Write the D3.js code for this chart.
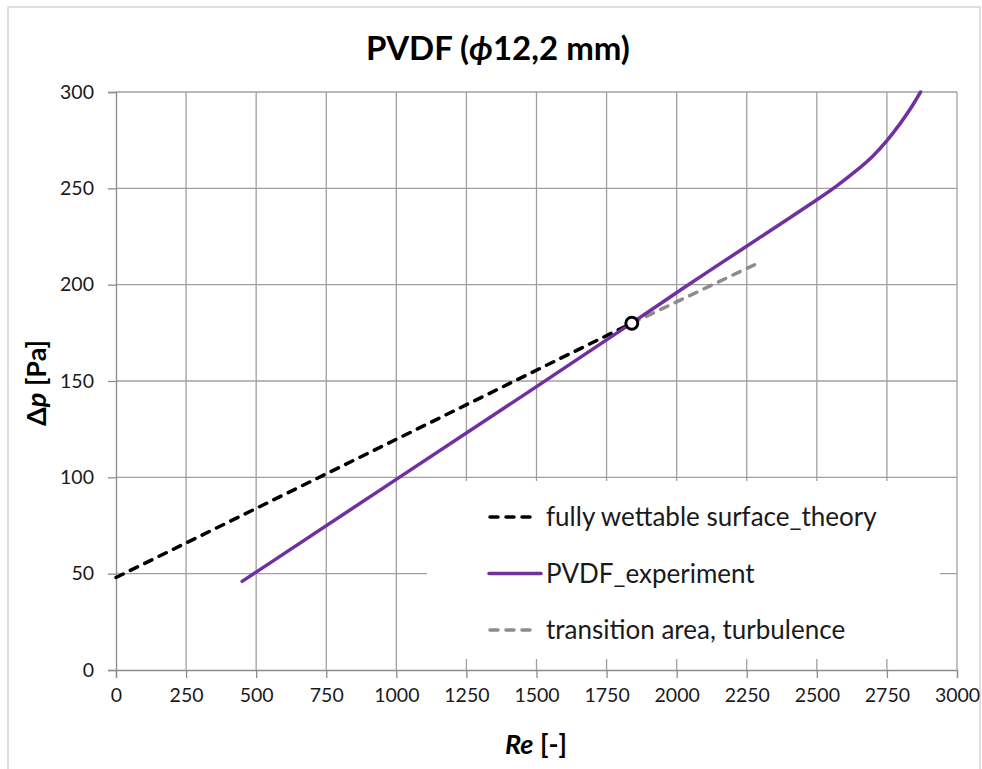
<!DOCTYPE html>
<html><head><meta charset="utf-8">
<script src="https://cdn.jsdelivr.net/npm/d3@7"></script>
<style>
body{margin:0;background:#fff;}
svg{display:block;font-family:Lato,"Open Sans",sans-serif;}
</style></head>
<body>
<svg id="c" width="982" height="769"></svg>
<script>
// ---- data ----
const xTicks = [0,250,500,750,1000,1250,1500,1750,2000,2250,2500,2750,3000];
const yTicks = [0,50,100,150,200,250,300];
const theoryRe = [0, 1840];
const theoryDp = [48, 180];
const experimentRe = [450, 1000, 1500, 1840, 2000, 2250, 2400, 2500, 2570, 2640, 2700, 2750, 2800, 2840, 2870];
const experimentDp = [46, 99, 147, 180, 196, 220, 234.4, 244, 251, 259, 266.5, 274.5, 284, 292.5, 300];
const transitionRe = [1840, 2280];
const transitionDp = [180, 210.5];
const pointRe = [1840];
const pointDp = [180];
const seriesNames = ["fully wettable surface_theory","PVDF_experiment","transition area, turbulence"];

const svg = d3.select("#c");
const M = {l:116, r:957, t:92, b:670};
const x = d3.scaleLinear().domain([0,3000]).range([M.l, M.r]);
const y = d3.scaleLinear().domain([0,300]).range([M.b, M.t]);

// outer frame
svg.append("rect").attr("x",8).attr("y",7).attr("width",972).attr("height",780)
  .attr("fill","#fff").attr("stroke","#d0d0d0").attr("stroke-width",1.3);

const gridC = "#a0a0a0";
// grid
svg.append("g").selectAll("line").data(xTicks.slice(1)).join("line")
  .attr("x1",d=>x(d)).attr("x2",d=>x(d)).attr("y1",M.t).attr("y2",M.b)
  .attr("stroke",gridC).attr("stroke-width",1.3);
svg.append("g").selectAll("line").data(yTicks.slice(1)).join("line")
  .attr("y1",d=>y(d)).attr("y2",d=>y(d)).attr("x1",M.l).attr("x2",M.r)
  .attr("stroke",gridC).attr("stroke-width",1.3);

// axes
const xAxis = svg.append("g").attr("transform",`translate(0,${M.b})`)
  .call(d3.axisBottom(x).tickValues(xTicks).tickSize(8).tickPadding(10).tickFormat(d3.format("d")));
const yAxis = svg.append("g").attr("transform",`translate(${M.l},0)`)
  .call(d3.axisLeft(y).tickValues(yTicks).tickSize(8).tickPadding(14).tickFormat(d3.format("d")));
[xAxis,yAxis].forEach(a=>{
  a.select(".domain").attr("stroke","#8c8c8c").attr("stroke-width",1.3);
  a.selectAll(".tick line").attr("stroke","#8c8c8c").attr("stroke-width",1.3);
  a.selectAll("text").attr("font-family","Lato").attr("font-size",19.5).attr("fill","#1a1a1a");
});

// lines
const line = d3.line().x(d=>x(d[0])).y(d=>y(d[1]));
const zip = (a,b)=>a.map((v,i)=>[v,b[i]]);
svg.append("path").datum(zip(theoryRe,theoryDp)).attr("d",line)
  .attr("fill","none").attr("stroke","#000").attr("stroke-width",3.5)
  .attr("stroke-dasharray","8,8").attr("stroke-linecap","round");
svg.append("path").datum(zip(transitionRe,transitionDp)).attr("d",line)
  .attr("fill","none").attr("stroke","#8c8c8c").attr("stroke-width",3.5)
  .attr("stroke-dasharray","8,8").attr("stroke-linecap","round");
const curveLine = d3.line().x(d=>x(d[0])).y(d=>y(d[1])).curve(d3.curveBasis);
svg.append("path").datum(zip(experimentRe,experimentDp)).attr("d",curveLine)
  .attr("fill","none").attr("stroke","#7030A0").attr("stroke-width",3.5).attr("stroke-linecap","round");
svg.append("g").selectAll("circle").data(zip(pointRe,pointDp)).join("circle")
  .attr("cx",d=>x(d[0])).attr("cy",d=>y(d[1])).attr("r",6)
  .attr("fill","#fff").attr("stroke","#000").attr("stroke-width",3);

// legend
const lg = svg.append("g");
lg.append("rect").attr("x",427).attr("y",481).attr("width",513).attr("height",178).attr("fill","#fff");
const lgY = [517,573.5,630];
const lgStyle = [
  {c:"#000",dash:"8,8"},{c:"#7030A0",dash:null},{c:"#8c8c8c",dash:"8,8"}];
seriesNames.forEach((n,i)=>{
  const l = lg.append("line").attr("x1",i===1?489:490).attr("x2",i===1?541:538)
    .attr("y1",lgY[i]).attr("y2",lgY[i]).attr("stroke",lgStyle[i].c).attr("stroke-width",3.5)
    .attr("stroke-linecap","round");
  if(lgStyle[i].dash) l.attr("stroke-dasharray",lgStyle[i].dash);
  lg.append("text").attr("x",546).attr("y",lgY[i]).attr("dy","0.35em")
    .attr("font-size",26).attr("fill","#1a1a1a").text(n);
});

// title
const t = svg.append("text").attr("x",498).attr("y",60).attr("text-anchor","middle")
  .attr("font-size",33).attr("font-weight","bold").attr("fill","#000");
t.append("tspan").text("PVDF (");
t.append("tspan").attr("font-style","italic").text("ϕ");
t.append("tspan").text("12,2 mm)");

// y label
const yl = svg.append("text").attr("transform","translate(46,383) rotate(-90)")
  .attr("text-anchor","middle").attr("font-size",27).attr("font-weight","bold").attr("fill","#000");
yl.append("tspan").text("Δ");
yl.append("tspan").attr("font-style","italic").text("p");
yl.append("tspan").text(" [Pa]");

// x label
const xl = svg.append("text").attr("x",536).attr("y",754).attr("text-anchor","middle")
  .attr("font-size",27).attr("font-weight","bold").attr("fill","#000");
xl.append("tspan").attr("font-style","italic").text("Re");
xl.append("tspan").text(" [-]");
</script>
</body></html>
